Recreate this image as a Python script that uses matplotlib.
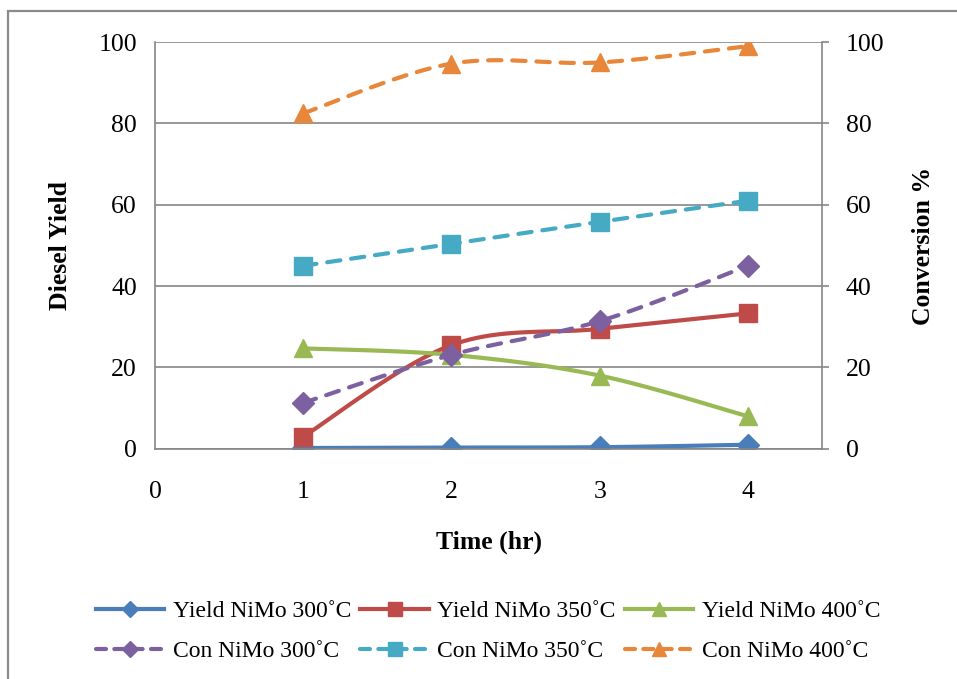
import numpy as np
import matplotlib.pyplot as plt
from matplotlib.lines import Line2D
from matplotlib.patches import Rectangle

plt.rcParams['font.family'] = ['Liberation Serif', 'DejaVu Serif']

time_hr = [1, 2, 3, 4]
yield_300 = [0.2, 0.3, 0.4, 1.0]
yield_350 = [3.0, 25.5, 29.5, 33.3]
yield_400 = [24.7, 23.1, 18.0, 8.0]
con_300 = [11.3, 23.1, 31.4, 45.0]
con_350 = [45.0, 50.4, 55.8, 61.0]
con_400 = [82.5, 94.7, 95.0, 99.0]

x_ticks = [0, 1, 2, 3, 4]
y_ticks = [0, 20, 40, 60, 80, 100]


def smooth(x, y, n=40):
    # Catmull-Rom style bezier through the points (like Excel's smoothed line)
    pts = np.column_stack([x, y]).astype(float)
    out = []
    for i in range(len(pts) - 1):
        p0 = pts[i - 1] if i > 0 else pts[i]
        p1 = pts[i]
        p2 = pts[i + 1]
        p3 = pts[i + 2] if i + 2 < len(pts) else pts[i + 1]
        c1 = p1 + (p2 - p0) / 6
        c2 = p2 - (p3 - p1) / 6
        t = np.linspace(0, 1, n)[:, None]
        seg = ((1 - t) ** 3 * p1 + 3 * (1 - t) ** 2 * t * c1
               + 3 * (1 - t) * t ** 2 * c2 + t ** 3 * p2)
        out.append(seg if i == 0 else seg[1:])
    out = np.vstack(out)
    return out[:, 0], out[:, 1]


fig = plt.figure(figsize=(9.57, 6.79), dpi=100)
ax = fig.add_axes([0.162, 0.339, 0.697, 0.599])
ax2 = ax.twinx()

grey = '#868686'
lw = 3.0
ms = 13
dash = (3.2, 2.6)
legend_dash = (2.4, 2.0)

series = [
    (ax, yield_300, 'Yield NiMo 300˚C', '#4A7EBB', 'D', '-', ms * 0.85),
    (ax, yield_350, 'Yield NiMo 350˚C', '#BE4B48', 's', '-', ms),
    (ax, yield_400, 'Yield NiMo 400˚C', '#98B954', '^', '-', ms),
    (ax2, con_300, 'Con NiMo 300˚C', '#7D60A0', 'D', '--', ms * 0.85),
    (ax2, con_350, 'Con NiMo 350˚C', '#46AAC5', 's', '--', ms),
    (ax2, con_400, 'Con NiMo 400˚C', '#E8863A', '^', '--', ms),
]

handles = {}
for a, vals, label, color, marker, ls, size in series:
    sx, sy = smooth(time_hr, vals)
    line, = a.plot(sx, sy, color=color, lw=lw, linestyle=ls,
                   solid_capstyle='round', dash_capstyle='round')
    if ls == '--':
        line.set_dashes(dash)
    a.plot(time_hr, vals, linestyle='none', marker=marker, ms=size,
           color=color, markeredgecolor=color)
    h = Line2D([], [], color=color, lw=lw, linestyle=ls, marker=marker,
               ms=size * 0.75, markeredgecolor=color, dash_capstyle='round')
    if ls == '--':
        h.set_dashes(legend_dash)
    handles[label] = h

for a in (ax, ax2):
    a.set_xlim(0, 4.5)
    a.set_ylim(0, 100)
    a.set_yticks(y_ticks)
    for s in a.spines.values():
        s.set_visible(False)

ax.set_xticks(x_ticks)
ax.yaxis.grid(True, color=grey, lw=1.2)
ax.set_axisbelow(True)
for side in ('left', 'bottom'):
    ax.spines[side].set_visible(True)
    ax.spines[side].set_color(grey)
    ax.spines[side].set_linewidth(1.2)
ax2.spines['right'].set_visible(True)
ax2.spines['right'].set_color(grey)
ax2.spines['right'].set_linewidth(1.2)

ax.tick_params(axis='x', length=0, pad=23, labelsize=18.5)
ax.tick_params(axis='y', length=0, pad=13, labelsize=18.5)
ax2.tick_params(axis='y', length=5, width=1.2, color=grey, direction='out',
                pad=12, labelsize=18.5)

ax.set_xlabel('Time (hr)', fontsize=18.5, fontweight='bold')
ax.set_ylabel('Diesel Yield', fontsize=18.5, fontweight='bold')
ax2.set_ylabel('Conversion %', fontsize=18.5, fontweight='bold')
ax.xaxis.set_label_coords(0.5, -0.2)
ax.yaxis.set_label_coords(-0.124, 0.5)
ax2.yaxis.set_label_coords(1.135, 0.5)

order = ['Yield NiMo 300˚C', 'Con NiMo 300˚C', 'Yield NiMo 350˚C',
         'Con NiMo 350˚C', 'Yield NiMo 400˚C', 'Con NiMo 400˚C']
fig.legend([handles[k] for k in order], order, ncol=3, frameon=False,
           loc='center', bbox_to_anchor=(0.51, 0.07), fontsize=17,
           handlelength=2.9, handletextpad=0.35, columnspacing=0.4,
           labelspacing=0.8)

# outer chart frame
fig.patches.append(Rectangle((0.0084, -0.05), 1.05, 1.034, transform=fig.transFigure,
                             fill=False, edgecolor='#8a8a8a', lw=1.6))

fig.savefig('out.png', dpi=100)
